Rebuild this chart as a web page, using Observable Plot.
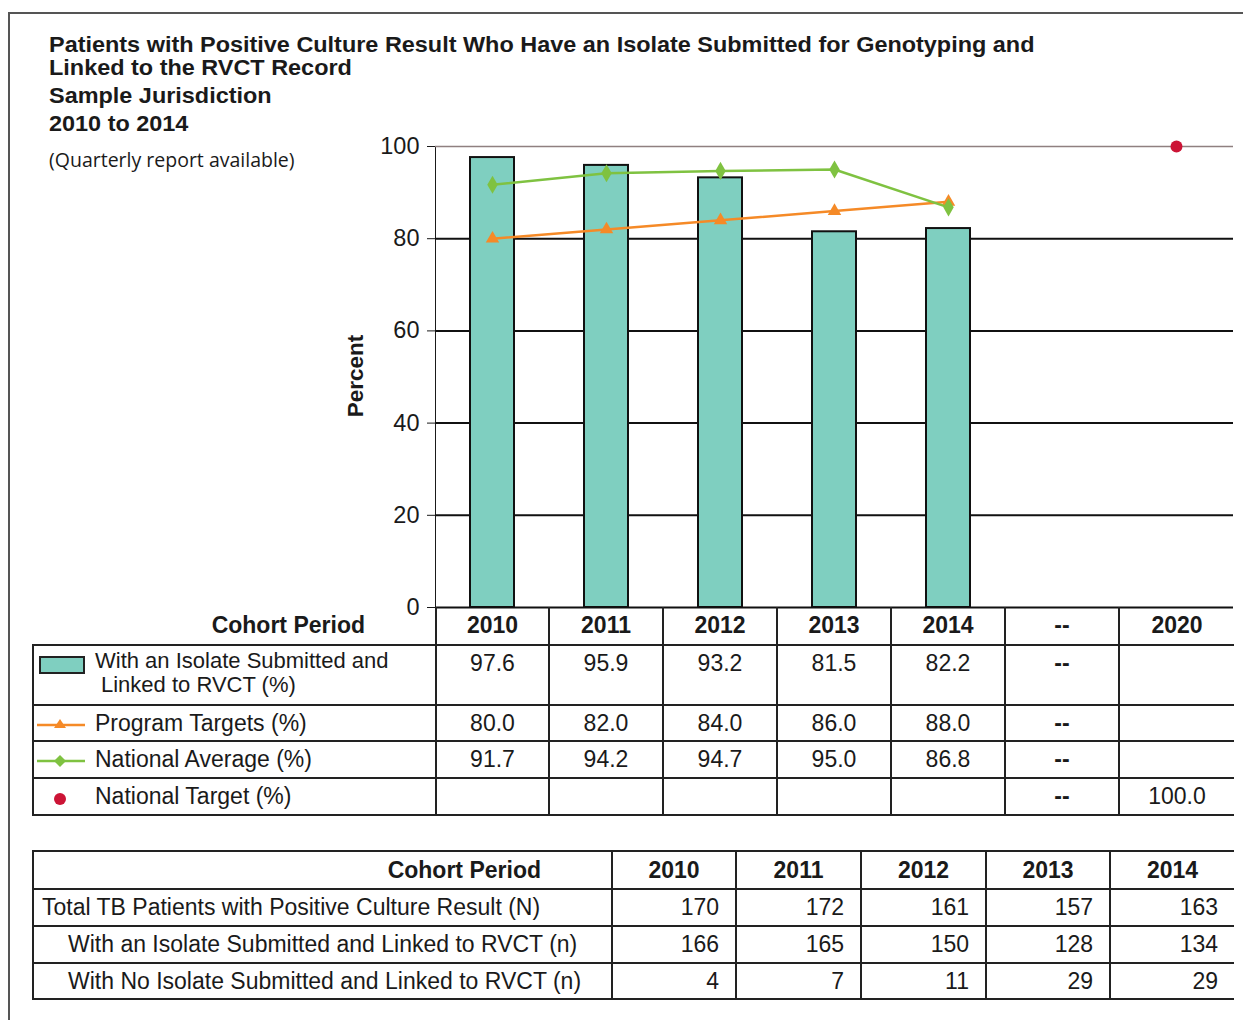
<!DOCTYPE html>
<html>
<head>
<meta charset="utf-8">
<script src="https://cdn.jsdelivr.net/npm/d3@7"></script>
<script src="https://cdn.jsdelivr.net/npm/@observablehq/plot@0.6"></script>
<style>
  body { margin: 0; background: #fff; }
  #wrap { position: relative; width: 1243px; height: 1020px; overflow: hidden; font-family: "Liberation Sans", Arial, sans-serif; color: #1a1a1a; }
  #frame { position: absolute; left: 8px; top: 12px; width: 1260px; height: 1030px; border-left: 2px solid #555; border-top: 2px solid #555; }
  .t { position: absolute; left: 49px; font-weight: bold; font-size: 22px; white-space: nowrap; line-height: 23px; transform: scaleX(1.065); transform-origin: left center; }
  .sub { position: absolute; left: 49px; font-family: "Open Sans", sans-serif; font-size: 19.5px; white-space: nowrap; line-height: 24px; }
  #ylab { position: absolute; left: 356px; top: 376px; font-weight: bold; font-size: 22.5px; white-space: nowrap; transform: translate(-50%, -50%) rotate(-90deg); }
  #chart { position: absolute; left: 0; top: 0; }
  table { position: absolute; border-collapse: collapse; table-layout: fixed; font-size: 23px; }
  td { padding: 0; white-space: nowrap; line-height: 23px; }
  #t1 { left: 32px; top: 607px; width: 1201px; }
  #t1 td { border: 2px solid #222; border-right: none; text-align: center; vertical-align: middle; }
  #t1 tr.h td { border-top: none; font-weight: bold; }
  #t1 tr.h td.lab { border-left: none; text-align: right; padding-right: 70px; }
  #t1 td.lab { text-align: left; padding-left: 61px; position: relative; }
  #t1 tr.r1 td { vertical-align: top; padding-top: 6px; }
  #t1 tr.r1 td.lab { padding-top: 3px; font-size: 22px; line-height: 24px; }
  #t1 svg.sw { position: absolute; left: 2px; }
  #t2 { left: 32px; top: 850px; width: 1201px; }
  #t2 td { border: 2px solid #222; border-right: none; text-align: right; padding-right: 16px; vertical-align: middle; }
  #t2 tr.h td { font-weight: bold; text-align: center; padding-right: 0; }
  #t2 tr.h td.lab { text-align: right; padding-right: 70px; }
  #t2 td.lab { text-align: left; padding-left: 8px; }
  #t2 td.lab.ind { padding-left: 34px; }
</style>
</head>
<body>
<div id="wrap">
  <div id="frame"></div>
  <div id="chart"></div>
  <div class="t" style="top:33px">Patients with Positive Culture Result Who Have an Isolate Submitted for Genotyping and</div>
  <div class="t" style="top:56px">Linked to the RVCT Record</div>
  <div class="t" style="top:84px">Sample Jurisdiction</div>
  <div class="t" style="top:112px">2010 to 2014</div>
  <div class="sub" style="top:148px">(Quarterly report available)</div>
  <div id="ylab">Percent</div>
  <table id="t1"></table>
  <table id="t2"></table>
</div>
<script>
// ---- data ----
const periods = ["2010", "2011", "2012", "2013", "2014", "--", "2020"];
const years = ["2010", "2011", "2012", "2013", "2014"];
const isolatePct = [97.6, 95.9, 93.2, 81.5, 82.2];
const programTargets = [80.0, 82.0, 84.0, 86.0, 88.0];
const nationalAverage = [91.7, 94.2, 94.7, 95.0, 86.8];
const nationalTargetYear = "2020";
const nationalTarget = 100.0;
const yTicks = [0, 20, 40, 60, 80, 100];
const totalN = [170, 172, 161, 157, 163];
const withIsolateN = [166, 165, 150, 128, 134];
const noIsolateN = [4, 7, 11, 29, 29];

const seriesLabels = {
  bar: "With an Isolate Submitted and",
  bar2: "Linked to RVCT (%)",
  prog: "Program Targets (%)",
  nat: "National Average (%)",
  target: "National Target (%)"
};
const countLabels = [
  "Total TB Patients with Positive Culture Result (N)",
  "With an Isolate Submitted and Linked to RVCT (n)",
  "With No Isolate Submitted and Linked to RVCT (n)"
];

const C = { bar: "#7fcfc0", prog: "#f58a27", nat: "#7fc241", target: "#cc1436" };

const barData = years.map((year, i) => ({ year, value: isolatePct[i] }));
const progData = years.map((year, i) => ({ year, value: programTargets[i] }));
const natData = years.map((year, i) => ({ year, value: nationalAverage[i] }));
const targetData = [{ year: nationalTargetYear, value: nationalTarget }];

const chart = Plot.plot({
  width: 1243,
  height: 620,
  marginLeft: 435,
  marginRight: 10,
  marginTop: 146,
  marginBottom: 13,
  style: { fontFamily: "Liberation Sans, Arial, sans-serif", fontSize: "23.5px", color: "#1a1a1a", background: "transparent" },
  x: { type: "band", domain: periods, padding: 0, axis: null },
  y: { domain: [0, 100], ticks: yTicks, tickSize: 8, tickPadding: 8, line: true, label: null },
  marks: [
    Plot.ruleY([20, 40, 60, 80], { stroke: "#111", strokeWidth: 2 }),
    Plot.ruleY([100], { stroke: "#8f8080", strokeWidth: 1.5 }),
    Plot.barY(barData, { x: "year", y: "value", fill: C.bar, stroke: "#111", strokeWidth: 2, insetLeft: 35, insetRight: 35 }),
    Plot.ruleY([0], { stroke: "#111", strokeWidth: 2 }),
    Plot.line(progData, { x: "year", y: "value", stroke: C.prog, strokeWidth: 2.5 }),
    Plot.dot(progData, { x: "year", y: "value", symbol: "triangle", fill: C.prog, r: 5 }),
    Plot.line(natData, { x: "year", y: "value", stroke: C.nat, strokeWidth: 2.5 }),
    Plot.dot(natData, { x: "year", y: "value", symbol: "diamond", fill: C.nat, r: 5.5 }),
    Plot.dot(targetData, { x: "year", y: "value", fill: C.target, r: 6 })
  ]
});
document.getElementById("chart").appendChild(chart);

// ---- legend table ----
const colW = [403, 113, 114, 114, 114, 114, 114, 115];
function colgroup(widths) {
  return "<colgroup>" + widths.map(w => `<col style="width:${w}px">`).join("") + "</colgroup>";
}
const fmt = v => v.toFixed(1);
function rowVals(vals, dash, last) {
  let s = years.map((y, i) => `<td>${vals ? fmt(vals[i]) : ""}</td>`).join("");
  s += `<td><b>${dash}</b></td><td>${last}</td>`;
  return s;
}
const swBar = `<svg class="sw" width="50" height="22" style="top:8px"><rect x="4" y="3" width="44" height="16" fill="${C.bar}" stroke="#222" stroke-width="2"/></svg>`;
const swProg = `<svg class="sw" width="52" height="20" style="top:8px"><line x1="1" x2="49" y1="11" y2="11" stroke="${C.prog}" stroke-width="2.5"/><path d="M24,5 L30,14 L18,14 Z" fill="${C.prog}"/></svg>`;
const swNat = `<svg class="sw" width="52" height="20" style="top:9px"><line x1="1" x2="49" y1="10" y2="10" stroke="${C.nat}" stroke-width="2.5"/><path d="M24,4 L30,10 L24,16 L18,10 Z" fill="${C.nat}"/></svg>`;
const swTarget = `<svg class="sw" width="52" height="20" style="top:9px"><circle cx="24" cy="11" r="6" fill="${C.target}"/></svg>`;

let t1 = colgroup(colW);
t1 += `<tr class="h" style="height:38px"><td class="lab">Cohort Period</td>${periods.map(p => `<td>${p}</td>`).join("")}</tr>`;
t1 += `<tr class="r1" style="height:60px"><td class="lab">${swBar}<div>${seriesLabels.bar}</div><div style="margin-left:6px">${seriesLabels.bar2}</div></td>${rowVals(isolatePct, "--", "")}</tr>`;
t1 += `<tr style="height:36px"><td class="lab">${swProg}${seriesLabels.prog}</td>${rowVals(programTargets, "--", "")}</tr>`;
t1 += `<tr style="height:37px"><td class="lab">${swNat}${seriesLabels.nat}</td>${rowVals(nationalAverage, "--", "")}</tr>`;
t1 += `<tr style="height:37px"><td class="lab">${swTarget}${seriesLabels.target}</td>${rowVals(null, "--", fmt(nationalTarget))}</tr>`;
document.getElementById("t1").innerHTML = t1;

// ---- counts table ----
const colW2 = [579, 124, 125, 125, 124, 124];
let t2 = colgroup(colW2);
t2 += `<tr class="h" style="height:38px"><td class="lab">Cohort Period</td>${years.map(y => `<td>${y}</td>`).join("")}</tr>`;
[totalN, withIsolateN, noIsolateN].forEach((arr, k) => {
  t2 += `<tr style="height:${k === 2 ? 36 : 37}px"><td class="lab${k ? " ind" : ""}">${countLabels[k]}</td>${arr.map(v => `<td>${v}</td>`).join("")}</tr>`;
});
document.getElementById("t2").innerHTML = t2;
</script>
</body>
</html>
